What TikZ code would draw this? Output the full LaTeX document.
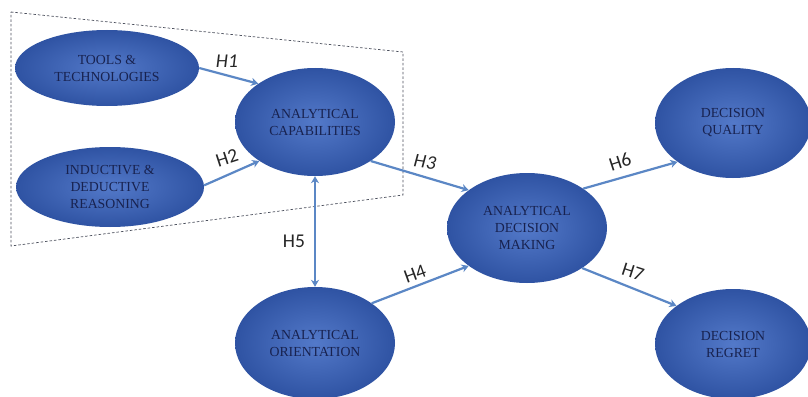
\documentclass[tikz,border=0pt]{standalone}
\usepackage{fontspec}
\setmainfont{Liberation Serif}
\newfontfamily\lblfont{Carlito}
\usetikzlibrary{shapes.geometric,arrows.meta}
\definecolor{ellin}{HTML}{5379C9}
\definecolor{ellout}{HTML}{2F53A3}
\definecolor{elltext}{HTML}{18224F}
\definecolor{arrc}{HTML}{5B87C5}
\definecolor{boxc}{HTML}{4A4F5C}
\tikzset{
  construct/.style={ellipse, inner sep=0pt, inner color=ellin, outer color=ellout,
    text=elltext, align=center, font=\fontsize{13.8}{17}\selectfont},
  link/.style={draw=arrc, line width=2.2pt, -{Stealth[length=7pt,width=8pt]}},
  hlabel/.style={font=\lblfont\fontsize{19.5}{19.5}\selectfont, text=black!85, inner sep=0pt}
}
\begin{document}
\begin{tikzpicture}[x=1pt,y=-1pt]
\useasboundingbox (0,0) rectangle (808,396);
\clip (0,0) rectangle (808,396);
\fill[white] (0,0) rectangle (808,396);
% dashed group
\draw[boxc, line width=0.7pt, dash pattern=on 2.5pt off 2pt] (11,12) -- (403,52) -- (403,195) -- (11,246) -- cycle;
% constructs
\node[construct, minimum width=184pt, minimum height=76pt] (tools) at (107,68) {TOOLS \&\\TECHNOLOGIES};
\node[construct, minimum width=188pt, minimum height=80pt] (ind) at (110,187) {INDUCTIVE \&\\DEDUCTIVE\\REASONING};
\node[construct, minimum width=160pt, minimum height=108pt] (ac) at (315,122) {ANALYTICAL\\CAPABILITIES};
\node[construct, minimum width=160pt, minimum height=110pt] (adm) at (527,228) {ANALYTICAL\\DECISION\\MAKING};
\node[construct, minimum width=156pt, minimum height=110pt] (dq) at (733,123) {DECISION\\QUALITY};
\node[construct, minimum width=160pt, minimum height=112pt] (ao) at (315,343) {ANALYTICAL\\ORIENTATION};
\node[construct, minimum width=156pt, minimum height=110pt] (dr) at (733,344) {DECISION\\REGRET};
% links
\draw[link] (tools.0) -- (ac.146);
\draw[link] (ind.1) -- (ac.215);
\draw[link] (ac.-35) -- (adm.147);
\draw[link] (ao.35) -- (adm.213);
\draw[link, {Stealth[length=7pt,width=8pt]}-{Stealth[length=7pt,width=8pt]}] (ac.south) -- (ao.north);
\draw[link] (adm.35) -- (dq.215);
\draw[link] (adm.-36) -- (dr.146);
% labels
\node[hlabel] (h1) at (227,61) {\itshape H1};
\node[hlabel, rotate=18] (h2) at (227,158) {H2};
\node[hlabel, rotate=-8] (h3) at (425,162) {\itshape H3};
\node[hlabel, rotate=20] (h4) at (415,274) {H4};
\node[hlabel] (h5) at (294,241) {H5};
\node[hlabel, rotate=18] (h6) at (620,162) {H6};
\node[hlabel, rotate=-18] (h7) at (633,272) {H7};
\end{tikzpicture}
\end{document}
